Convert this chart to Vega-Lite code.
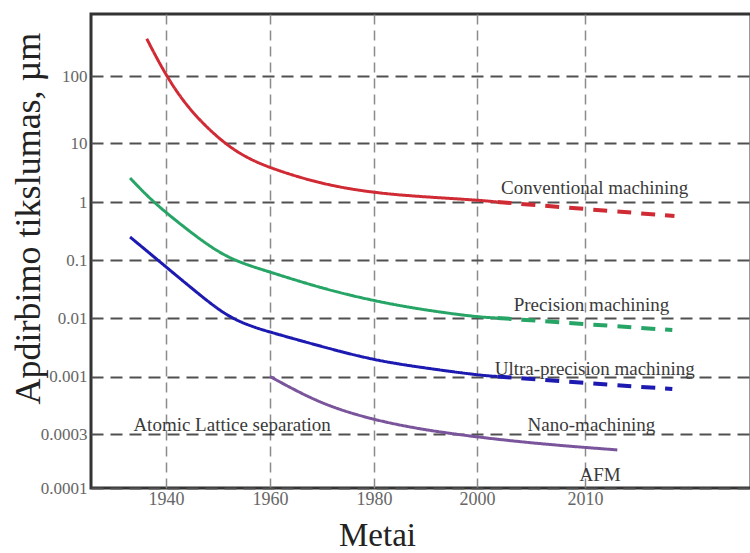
{
  "$schema": "https://vega.github.io/schema/vega-lite/v6.json",
  "width": 660,
  "height": 474,
  "autosize": {"type": "none"},
  "padding": {"left": 91, "top": 14, "right": 0, "bottom": 65},
  "background": "white",
  "config": {
    "view": {"stroke": "#333333", "strokeWidth": 3},
    "font": "Liberation Serif"
  },
  "datasets": {
    "curves": [
      {"series": "Conventional", "part": "solid", "year": 1936.3, "value": 360},
      {"series": "Conventional", "part": "solid", "year": 1940, "value": 100},
      {"series": "Conventional", "part": "solid", "year": 1944.6, "value": 30},
      {"series": "Conventional", "part": "solid", "year": 1951.0, "value": 10},
      {"series": "Conventional", "part": "solid", "year": 1955.6, "value": 5.57},
      {"series": "Conventional", "part": "solid", "year": 1960, "value": 3.77},
      {"series": "Conventional", "part": "solid", "year": 1969.7, "value": 2.02},
      {"series": "Conventional", "part": "solid", "year": 1980, "value": 1.42},
      {"series": "Conventional", "part": "solid", "year": 1989.8, "value": 1.22},
      {"series": "Conventional", "part": "solid", "year": 2000, "value": 1.08},
      {"series": "Conventional", "part": "solid", "year": 2001.9, "value": 1.0},
      {"series": "Conventional", "part": "dashed", "year": 2001.9, "value": 1.0},
      {"series": "Conventional", "part": "dashed", "year": 2010, "value": 0.757},
      {"series": "Conventional", "part": "dashed", "year": 2018.3, "value": 0.574},
      {"series": "Precision", "part": "solid", "year": 1933.1, "value": 2.55},
      {"series": "Precision", "part": "solid", "year": 1937.3, "value": 1.04},
      {"series": "Precision", "part": "solid", "year": 1942.7, "value": 0.418},
      {"series": "Precision", "part": "solid", "year": 1947.5, "value": 0.196},
      {"series": "Precision", "part": "solid", "year": 1951.7, "value": 0.1127},
      {"series": "Precision", "part": "solid", "year": 1956.2, "value": 0.0788},
      {"series": "Precision", "part": "solid", "year": 1960, "value": 0.0621},
      {"series": "Precision", "part": "solid", "year": 1969.7, "value": 0.0329},
      {"series": "Precision", "part": "solid", "year": 1980, "value": 0.0196},
      {"series": "Precision", "part": "solid", "year": 1989.8, "value": 0.0137},
      {"series": "Precision", "part": "solid", "year": 2000, "value": 0.0104},
      {"series": "Precision", "part": "solid", "year": 2001.9, "value": 0.01},
      {"series": "Precision", "part": "dashed", "year": 2001.9, "value": 0.01},
      {"series": "Precision", "part": "dashed", "year": 2010, "value": 0.00788},
      {"series": "Precision", "part": "dashed", "year": 2018.1, "value": 0.00621},
      {"series": "Ultra", "part": "solid", "year": 1933.1, "value": 0.249},
      {"series": "Ultra", "part": "solid", "year": 1939.8, "value": 0.0788},
      {"series": "Ultra", "part": "solid", "year": 1946.5, "value": 0.0249},
      {"series": "Ultra", "part": "solid", "year": 1951.7, "value": 0.0108},
      {"series": "Ultra", "part": "solid", "year": 1956.2, "value": 0.00728},
      {"series": "Ultra", "part": "solid", "year": 1960, "value": 0.00574},
      {"series": "Ultra", "part": "solid", "year": 1969.7, "value": 0.00329},
      {"series": "Ultra", "part": "solid", "year": 1980, "value": 0.00189},
      {"series": "Ultra", "part": "solid", "year": 1989.8, "value": 0.0014},
      {"series": "Ultra", "part": "solid", "year": 2000, "value": 0.00106},
      {"series": "Ultra", "part": "solid", "year": 2001.9, "value": 0.001},
      {"series": "Ultra", "part": "dashed", "year": 2001.9, "value": 0.001},
      {"series": "Ultra", "part": "dashed", "year": 2010, "value": 0.000873},
      {"series": "Ultra", "part": "dashed", "year": 2018.1, "value": 0.000769},
      {"series": "Nano", "part": "solid", "year": 1960, "value": 0.001},
      {"series": "Nano", "part": "solid", "year": 1965.8, "value": 0.000708},
      {"series": "Nano", "part": "solid", "year": 1971.7, "value": 0.000528},
      {"series": "Nano", "part": "solid", "year": 1980, "value": 0.000402},
      {"series": "Nano", "part": "solid", "year": 1989.8, "value": 0.000326},
      {"series": "Nano", "part": "solid", "year": 2000, "value": 0.000282},
      {"series": "Nano", "part": "solid", "year": 2005.8, "value": 0.000245},
      {"series": "Nano", "part": "solid", "year": 2013.0, "value": 0.000217}
    ],
    "labels": [
      {"text": "Conventional machining", "year": 2010.9, "value": 1.7},
      {"text": "Precision machining", "year": 2010.6, "value": 0.0168},
      {"text": "Ultra-precision machining", "year": 2010.9, "value": 0.00137},
      {"text": "Nano-machining", "year": 2010.6, "value": 0.000362},
      {"text": "AFM", "year": 2011.4, "value": 0.00013},
      {"text": "Atomic Lattice separation", "year": 1952.7, "value": 0.000362}
    ]
  },
  "encoding": {
    "x": {
      "field": "year",
      "type": "quantitative",
      "scale": {
        "domain": [1925.6, 1940, 1960, 1980, 2000, 2010, 2025.4],
        "range": [0, 75, 179, 283, 386, 494, 660],
        "nice": false,
        "zero": false
      },
      "axis": {
        "title": "Metai",
        "values": [1940, 1960, 1980, 2000, 2010],
        "format": "d",
        "grid": true,
        "gridDash": [10, 6],
        "gridColor": "#8a8a8a",
        "gridWidth": 1.5,
        "ticks": false,
        "domain": false,
        "labelFont": "Liberation Serif",
        "labelFontSize": 18,
        "labelColor": "#666666",
        "labelPadding": 2,
        "labelOverlap": false,
        "labelFlush": false,
        "titleFont": "Liberation Serif",
        "titleFontSize": 33,
        "titleFontWeight": "normal",
        "titleColor": "#222222",
        "titleAlign": "center",
        "titleBaseline": "alphabetic",
        "titleX": 286,
        "titleY": 57
      }
    },
    "y": {
      "field": "value",
      "type": "quantitative",
      "scale": {
        "type": "log",
        "domain": [0.0001, 0.0003, 0.001, 0.01, 0.1, 1, 10, 100, 1000],
        "range": [474, 420, 362.5, 304, 246, 188, 129, 62, -5],
        "nice": false
      },
      "axis": {
        "title": "Apdirbimo tikslumas, µm",
        "values": [0.0001, 0.0003, 0.001, 0.01, 0.1, 1, 10, 100],
        "labelExpr": "'' + datum.value",
        "grid": true,
        "gridDash": [12, 7],
        "gridColor": "#505050",
        "gridWidth": 2,
        "ticks": false,
        "domain": false,
        "labelFont": "Liberation Serif",
        "labelFontSize": 17,
        "labelColor": "#666666",
        "labelPadding": 4,
        "labelOverlap": false,
        "labelFlush": false,
        "titleFont": "Liberation Serif",
        "titleFontSize": 36,
        "titleFontWeight": "normal",
        "titleColor": "#222222",
        "titleAngle": -90,
        "titleAlign": "center",
        "titleBaseline": "middle",
        "titleX": -63,
        "titleY": 204
      }
    }
  },
  "layer": [
    {
      "data": {"name": "curves"},
      "mark": {"type": "line", "interpolate": "basis", "strokeCap": "butt"},
      "encoding": {
        "color": {
          "field": "series",
          "type": "nominal",
          "scale": {
            "domain": ["Conventional", "Precision", "Ultra", "Nano"],
            "range": ["#d02a34", "#27a567", "#1c1ab0", "#7a559c"]
          },
          "legend": null
        },
        "strokeDash": {
          "field": "part",
          "type": "nominal",
          "scale": {"domain": ["solid", "dashed"], "range": [[1, 0], [14, 10]]},
          "legend": null
        },
        "strokeWidth": {
          "field": "part",
          "type": "nominal",
          "scale": {"domain": ["solid", "dashed"], "range": [3, 4]},
          "legend": null
        }
      }
    },
    {
      "data": {"name": "labels"},
      "mark": {
        "type": "text",
        "font": "Liberation Serif",
        "fontSize": 19,
        "color": "#3a3a3a",
        "align": "center",
        "baseline": "middle"
      },
      "encoding": {
        "text": {"field": "text", "type": "nominal"}
      }
    }
  ]
}
